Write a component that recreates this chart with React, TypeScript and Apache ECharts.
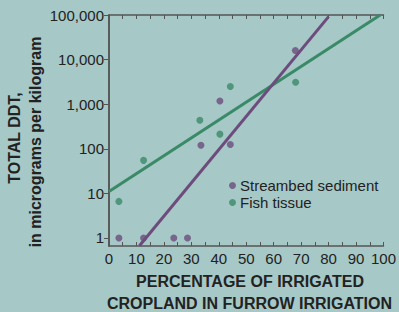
import React, { useEffect, useRef } from "react";
import * as echarts from "echarts";

const sedimentX = [3.6, 12.6, 23.6, 28.6, 33.5, 40.4, 44.2, 67.9];
const sedimentY = [1, 1, 1, 1, 120, 1180, 125, 16000];
const fishX = [3.6, 12.6, 33.1, 40.4, 44.2, 68];
const fishY = [6.6, 55, 435, 213, 2500, 3100];
const sedimentFit = [
  [11.1, 0.67],
  [80, 92000],
];
const fishFit = [
  [0, 11],
  [98.8, 100000],
];
const yTicks = [1, 10, 100, 1000, 10000, 100000];
const xLabelsEvery = 10;

const BG = "#a6c8c6";
const PURPLE = "#6d4c7d";
const GREEN = "#3a8a68";
const AXIS = "#555555";
const TEXT = "#222222";
const FONT = "Liberation Sans, Arial, sans-serif";

export default function App() {
  const ref = useRef<HTMLDivElement>(null);
  useEffect(() => {
    if (!ref.current) return;
    const chart = echarts.init(ref.current, null, { renderer: "svg" });
    const yMin = 0.66;
    const yMax = 100000;
    const xCommon = {
      type: "value",
      min: 0,
      max: 100,
      interval: 5,
      splitLine: { show: false },
      axisLine: { show: true, lineStyle: { color: AXIS, width: 1.5 } },
      axisTick: { show: true, inside: true, length: 4, lineStyle: { color: AXIS, width: 1 } },
    };
    const yCommon = {
      type: "log",
      logBase: 10,
      min: yMin,
      max: yMax,
      splitLine: { show: false },
      axisLine: { show: true, lineStyle: { color: AXIS, width: 1.5 } },
    };
    chart.setOption({
      animation: false,
      backgroundColor: BG,
      textStyle: { fontFamily: FONT },
      grid: { left: 109, right: 10, top: 15, bottom: 66, containLabel: false },
      legend: {
        data: ["Streambed sediment", "Fish tissue"],
        orient: "vertical",
        left: 229,
        top: 178,
        padding: 0,
        icon: "circle",
        itemWidth: 7,
        itemHeight: 7,
        itemGap: 2,
        textStyle: { fontSize: 15, color: TEXT, fontFamily: FONT, padding: [0, 0, 0, -1] },
      },
      xAxis: [
        {
          ...xCommon,
          position: "bottom",
          axisLabel: {
            show: true,
            fontSize: 15,
            color: TEXT,
            fontFamily: FONT,
            margin: 5,
            formatter: (v: number) => (v % xLabelsEvery === 0 ? String(v) : ""),
          },
        },
        {
          ...xCommon,
          position: "top",
          axisLabel: { show: false },
        },
      ],
      yAxis: [
        {
          ...yCommon,
          position: "left",
          axisTick: {
            show: true,
            inside: false,
            length: 5,
            customValues: yTicks,
            lineStyle: { color: AXIS, width: 1 },
          },
          axisLabel: {
            show: true,
            fontSize: 15,
            color: TEXT,
            fontFamily: FONT,
            margin: 5,
            customValues: yTicks,
            formatter: (v: number) => Math.round(v).toLocaleString("en-US"),
          },
        },
        {
          ...yCommon,
          position: "right",
          axisTick: {
            show: true,
            inside: true,
            length: 5,
            customValues: yTicks,
            lineStyle: { color: AXIS, width: 1 },
          },
          axisLabel: { show: false },
        },
      ],
      graphic: [
        {
          type: "text",
          x: 14,
          y: 138,
          rotation: Math.PI / 2,
          style: {
            text: "TOTAL DDT,",
            font: `bold 16px ${FONT}`,
            fill: TEXT,
            align: "center",
            verticalAlign: "middle",
          },
        },
        {
          type: "text",
          x: 35,
          y: 142,
          rotation: Math.PI / 2,
          style: {
            text: "in micrograms per kilogram",
            font: `bold 16px ${FONT}`,
            fill: TEXT,
            align: "center",
            verticalAlign: "middle",
          },
        },
        {
          type: "text",
          x: 250,
          y: 281,
          style: {
            text: "PERCENTAGE OF IRRIGATED",
            font: `bold 16px ${FONT}`,
            fill: TEXT,
            align: "center",
            verticalAlign: "middle",
          },
        },
        {
          type: "text",
          x: 249.5,
          y: 303,
          style: {
            text: "CROPLAND IN FURROW IRRIGATION",
            font: `bold 16px ${FONT}`,
            fill: TEXT,
            align: "center",
            verticalAlign: "middle",
          },
        },
      ],
      series: [
        {
          name: "Fish fit",
          type: "line",
          data: fishFit,
          showSymbol: false,
          lineStyle: { color: GREEN, width: 3 },
          z: 2,
        },
        {
          name: "Sediment fit",
          type: "line",
          data: sedimentFit,
          showSymbol: false,
          lineStyle: { color: PURPLE, width: 3 },
          z: 2,
        },
        {
          name: "Streambed sediment",
          type: "scatter",
          data: sedimentX.map((x, i) => [x, sedimentY[i]]),
          symbol: "circle",
          symbolSize: 7,
          itemStyle: { color: PURPLE },
          z: 3,
        },
        {
          name: "Fish tissue",
          type: "scatter",
          data: fishX.map((x, i) => [x, fishY[i]]),
          symbol: "circle",
          symbolSize: 7,
          itemStyle: { color: GREEN },
          z: 3,
        },
      ],
    });
    return () => chart.dispose();
  }, []);
  return (
    <div
      ref={ref}
      style={{ position: "fixed", left: 0, top: 0, width: 399, height: 312 }}
    />
  );
}
